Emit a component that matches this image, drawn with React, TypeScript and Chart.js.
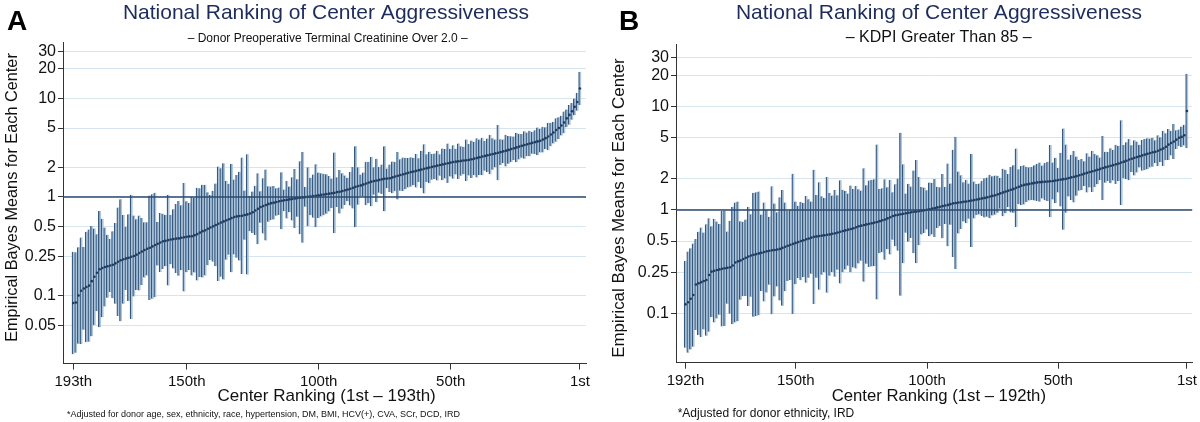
import React, { useEffect, useRef } from 'react';
import { Chart, registerables } from 'chart.js';

Chart.register(...registerables);

// ---------- Panel A: Donor Preoperative Terminal Creatinine Over 2.0 (193 centers, left = rank 193) ----------
const meanA = [
  0.084, 0.085, 0.10, 0.112, 0.118, 0.122, 0.126, 0.14, 0.155, 0.17,
  0.185, 0.19, 0.195, 0.198, 0.202, 0.205, 0.212, 0.22, 0.228, 0.233,
  0.238, 0.242, 0.247, 0.252, 0.26, 0.27, 0.28, 0.29, 0.298, 0.305,
  0.315, 0.325, 0.335, 0.345, 0.355, 0.36, 0.365, 0.37, 0.375, 0.378,
  0.38, 0.385, 0.39, 0.395, 0.398, 0.40, 0.41, 0.42, 0.435, 0.45,
  0.46, 0.475, 0.49, 0.505, 0.52, 0.535, 0.55, 0.565, 0.58, 0.595,
  0.61, 0.625, 0.635, 0.64, 0.645, 0.655, 0.665, 0.68, 0.70, 0.73,
  0.76, 0.79, 0.81, 0.83, 0.85, 0.865, 0.875, 0.89, 0.905, 0.915,
  0.925, 0.935, 0.945, 0.955, 0.965, 0.975, 0.98, 0.99, 1.0, 1.005,
  1.01, 1.02, 1.03, 1.04, 1.05, 1.06, 1.07, 1.08, 1.09, 1.10,
  1.12, 1.13, 1.15, 1.17, 1.19, 1.21, 1.24, 1.27, 1.29, 1.31,
  1.34, 1.37, 1.40, 1.43, 1.45, 1.47, 1.49, 1.51, 1.53, 1.54,
  1.55, 1.58, 1.61, 1.64, 1.67, 1.70, 1.73, 1.76, 1.79, 1.81,
  1.84, 1.87, 1.90, 1.93, 1.96, 1.99, 2.02, 2.05, 2.08, 2.11,
  2.14, 2.17, 2.20, 2.23, 2.26, 2.28, 2.30, 2.32, 2.34, 2.36,
  2.38, 2.41, 2.45, 2.49, 2.53, 2.57, 2.61, 2.65, 2.69, 2.73,
  2.77, 2.81, 2.85, 2.90, 2.95, 3.00, 3.06, 3.12, 3.18, 3.24,
  3.30, 3.36, 3.42, 3.48, 3.54, 3.60, 3.66, 3.72, 3.82, 3.95,
  4.10, 4.30, 4.50, 4.78, 5.00, 5.30, 5.70, 6.27, 6.80, 7.40,
  8.20, 9.20, 12.6,
];
// half-width of each interval, in decades (log10) around the mean
const hwA = [
  0.52, 0.51, 0.49, 0.54, 0.42, 0.56, 0.57, 0.56, 0.49, 0.39,
  0.59, 0.50, 0.40, 0.32, 0.27, 0.34, 0.41, 0.55, 0.62, 0.45,
  0.32, 0.44, 0.63, 0.41, 0.36, 0.38, 0.34, 0.28, 0.27, 0.53,
  0.53, 0.53, 0.22, 0.30, 0.28, 0.26, 0.46, 0.25, 0.30, 0.35,
  0.38, 0.33, 0.55, 0.36, 0.34, 0.40, 0.38, 0.47, 0.45, 0.47,
  0.46, 0.37, 0.33, 0.36, 0.42, 0.58, 0.55, 0.59, 0.40, 0.36,
  0.55, 0.38, 0.42, 0.45, 0.59, 0.25, 0.61, 0.18, 0.21, 0.25,
  0.36, 0.16, 0.28, 0.36, 0.18, 0.17, 0.17, 0.14, 0.14, 0.29,
  0.11, 0.19, 0.13, 0.22, 0.30, 0.19, 0.37, 0.46, 0.10, 0.30,
  0.19, 0.22, 0.32, 0.23, 0.22, 0.21, 0.20, 0.18, 0.15, 0.41,
  0.15, 0.22, 0.18, 0.15, 0.12, 0.17, 0.21, 0.41, 0.19, 0.11,
  0.12, 0.22, 0.21, 0.25, 0.14, 0.22, 0.13, 0.15, 0.33, 0.10,
  0.14, 0.16, 0.15, 0.24, 0.16, 0.17, 0.16, 0.15, 0.15, 0.14,
  0.17, 0.12, 0.19, 0.25, 0.14, 0.16, 0.13, 0.13, 0.15, 0.11,
  0.16, 0.15, 0.20, 0.14, 0.17, 0.13, 0.18, 0.15, 0.14, 0.21,
  0.16, 0.19, 0.17, 0.20, 0.18, 0.19, 0.15, 0.17, 0.20, 0.16,
  0.14, 0.28, 0.13, 0.12, 0.16, 0.14, 0.13, 0.12, 0.15, 0.13,
  0.12, 0.14, 0.12, 0.13, 0.11, 0.12, 0.14, 0.12, 0.13, 0.11,
  0.14, 0.12, 0.11, 0.12, 0.11, 0.10, 0.11, 0.09, 0.10, 0.085,
  0.085, 0.09, 0.17,
];
const yTicksA = [0.05, 0.1, 0.25, 0.5, 1, 2, 5, 10, 20, 30];
const yTickLabelsA = ['0.05', '0.1', '0.25', '0.5', '1', '2', '5', '10', '20', '30'];
const xTicksA = [193, 150, 100, 50, 1];
const xTickLabelsA = ['193th', '150th', '100th', '50th', '1st'];

// ---------- Panel B: KDPI Greater Than 85 (192 centers, left = rank 192) ----------
const meanB = [
  0.122, 0.128, 0.138, 0.150, 0.190, 0.195, 0.200, 0.205, 0.210, 0.235,
  0.253, 0.258, 0.262, 0.266, 0.270, 0.273, 0.276, 0.279, 0.290, 0.310,
  0.318, 0.325, 0.335, 0.345, 0.355, 0.362, 0.368, 0.374, 0.380, 0.386,
  0.392, 0.398, 0.403, 0.407, 0.410, 0.415, 0.420, 0.430, 0.440, 0.450,
  0.460, 0.470, 0.480, 0.490, 0.500, 0.510, 0.520, 0.530, 0.540, 0.550,
  0.555, 0.560, 0.565, 0.570, 0.575, 0.580, 0.588, 0.595, 0.605, 0.615,
  0.625, 0.635, 0.645, 0.655, 0.665, 0.680, 0.695, 0.705, 0.715, 0.725,
  0.735, 0.745, 0.755, 0.765, 0.780, 0.795, 0.810, 0.830, 0.850, 0.875,
  0.890, 0.900, 0.910, 0.920, 0.930, 0.940, 0.950, 0.960, 0.965, 0.975,
  0.985, 0.995, 1.005, 1.015, 1.030, 1.045, 1.060, 1.075, 1.090, 1.105,
  1.12, 1.14, 1.16, 1.17, 1.18, 1.19, 1.20, 1.21, 1.22, 1.235,
  1.25, 1.265, 1.28, 1.295, 1.31, 1.33, 1.35, 1.37, 1.39, 1.42,
  1.45, 1.48, 1.51, 1.54, 1.57, 1.60, 1.64, 1.68, 1.72, 1.75,
  1.77, 1.79, 1.81, 1.83, 1.85, 1.86, 1.87, 1.88, 1.89, 1.90,
  1.91, 1.93, 1.95, 1.97, 1.99, 2.01, 2.04, 2.07, 2.10, 2.13,
  2.17, 2.21, 2.25, 2.29, 2.33, 2.37, 2.41, 2.45, 2.50, 2.55,
  2.60, 2.64, 2.68, 2.72, 2.77, 2.82, 2.88, 2.94, 3.00, 3.08,
  3.14, 3.20, 3.26, 3.32, 3.38, 3.44, 3.50, 3.56, 3.62, 3.67,
  3.75, 3.85, 3.95, 4.10, 4.30, 4.45, 4.60, 4.80, 5.00, 5.10,
  5.30, 9.10,
];
const hwB = [
  0.42, 0.49, 0.49, 0.50, 0.44, 0.50, 0.53, 0.47, 0.54, 0.55,
  0.44, 0.50, 0.47, 0.44, 0.56, 0.56, 0.35, 0.45, 0.57, 0.58,
  0.58, 0.38, 0.36, 0.37, 0.48, 0.40, 0.60, 0.60, 0.60, 0.37,
  0.48, 0.40, 0.33, 0.62, 0.45, 0.36, 0.50, 0.56, 0.43, 0.34,
  0.34, 0.68, 0.40, 0.35, 0.38, 0.36, 0.42, 0.38, 0.35, 0.65,
  0.40, 0.52, 0.38, 0.36, 0.56, 0.40, 0.37, 0.42, 0.36, 0.50,
  0.40, 0.38, 0.35, 0.42, 0.38, 0.40, 0.36, 0.34, 0.55, 0.38,
  0.42, 0.42, 0.42, 0.75, 0.31, 0.31, 0.39, 0.30, 0.36, 0.23,
  0.30, 0.35, 0.79, 0.48, 0.19, 0.28, 0.25, 0.40, 0.50, 0.33,
  0.23, 0.22, 0.19, 0.26, 0.25, 0.28, 0.20, 0.19, 0.31, 0.18,
  0.40, 0.20, 0.52, 0.64, 0.30, 0.26, 0.19, 0.21, 0.17, 0.45,
  0.18, 0.15, 0.15, 0.17, 0.19, 0.19, 0.21, 0.19, 0.19, 0.18,
  0.15, 0.23, 0.21, 0.16, 0.22, 0.23, 0.38, 0.17, 0.19, 0.19,
  0.17, 0.16, 0.16, 0.17, 0.18, 0.19, 0.16, 0.18, 0.19, 0.35,
  0.18, 0.22, 0.12, 0.26, 0.49, 0.33, 0.18, 0.22, 0.25, 0.19,
  0.15, 0.15, 0.12, 0.19, 0.15, 0.20, 0.16, 0.14, 0.11, 0.31,
  0.15, 0.14, 0.17, 0.15, 0.19, 0.17, 0.41, 0.16, 0.18, 0.20,
  0.13, 0.17, 0.15, 0.11, 0.15, 0.15, 0.15, 0.14, 0.14, 0.11,
  0.15, 0.12, 0.17, 0.13, 0.15, 0.12, 0.17, 0.09, 0.08, 0.10,
  0.10, 0.36,
];
const yTicksB = [0.1, 0.25, 0.5, 1, 2, 5, 10, 20, 30];
const yTickLabelsB = ['0.1', '0.25', '0.5', '1', '2', '5', '10', '20', '30'];
const xTicksB = [192, 150, 100, 50, 1];
const xTickLabelsB = ['192th', '150th', '100th', '50th', '1st'];

const FONT = '"Liberation Sans", Arial, Helvetica, sans-serif';
const TITLE_COLOR = '#1d2c5c';
const BAR_LINE = '#35587d';
const BAR_FILL = '#adc6de';
const MEAN_COLOR = '#1f3b60';
const REF_COLOR = '#2b4a6f';
const GRID_COLOR = '#d6e5ee';
const AXIS_COLOR = '#333333';

type TextItem = {
  text: string; x: number; y: number; size: number; bold?: boolean;
  color?: string; align?: CanvasTextAlign; rotate?: number;
};

type PanelCfg = {
  mean: number[]; hw: number[];
  yTicks: number[]; yTickLabels: string[];
  xTicks: number[]; xTickLabels: string[];
  yMin: number; yMax: number; xMin: number; xMax: number;
  padTop: number; padRight: number; yWidth: number; xHeight: number;
  texts: TextItem[];
};

const textPlugin = {
  id: 'texts',
  afterDraw(chart: any, _args: any, opts: any) {
    const ctx = chart.ctx as CanvasRenderingContext2D;
    (opts.items as TextItem[]).forEach((t) => {
      ctx.save();
      ctx.font = `${t.bold ? 'bold ' : ''}${t.size}px ${FONT}`;
      ctx.fillStyle = t.color || '#111';
      ctx.textAlign = t.align || 'center';
      ctx.textBaseline = t.rotate ? 'middle' : 'alphabetic';
      ctx.translate(t.x, t.y);
      if (t.rotate) ctx.rotate(t.rotate);
      ctx.fillText(t.text, 0, 0);
      ctx.restore();
    });
  },
};

const refLinePlugin = {
  id: 'refLine',
  afterDatasetsDraw(chart: any) {
    const { ctx, chartArea } = chart;
    const y = chart.scales.y.getPixelForValue(1);
    ctx.save();
    ctx.strokeStyle = REF_COLOR;
    ctx.lineWidth = 1.6;
    ctx.beginPath();
    ctx.moveTo(chartArea.left, y);
    ctx.lineTo(chartArea.right, y);
    ctx.stroke();
    ctx.restore();
  },
};

function buildChart(canvas: HTMLCanvasElement, p: PanelCfg) {
  const n = p.mean.length;
  const bars = p.mean.map((m, i) => ({
    x: n - i,
    y: [m / Math.pow(10, p.hw[i]), m * Math.pow(10, p.hw[i])],
  }));
  const pts = p.mean.map((m, i) => ({ x: n - i, y: m }));
  return new Chart(canvas, {
    type: 'bar',
    data: {
      datasets: [
        {
          type: 'line',
          data: pts as any,
          showLine: false,
          pointRadius: 1.3,
          pointBorderWidth: 0,
          pointBackgroundColor: MEAN_COLOR,
          order: 0,
        } as any,
        {
          type: 'bar',
          data: bars as any,
          backgroundColor: BAR_FILL,
          borderColor: BAR_LINE,
          borderWidth: { left: 1.6, right: 0, top: 0, bottom: 0 },
          borderSkipped: false,
          barThickness: 2.64,
          order: 1,
        } as any,
      ],
    },
    options: {
      responsive: false,
      animation: false,
      events: [],
      layout: { padding: { top: p.padTop, right: p.padRight, left: 0, bottom: 0 } },
      plugins: {
        legend: { display: false },
        tooltip: { enabled: false },
        texts: { items: p.texts },
      } as any,
      scales: {
        x: {
          type: 'linear',
          reverse: true,
          offset: false,
          bounds: 'data',
          min: p.xMin,
          max: p.xMax,
          afterBuildTicks: (s: any) => { s.ticks = p.xTicks.map((v) => ({ value: v })); },
          afterFit: (s: any) => { s.height = p.xHeight; },
          ticks: {
            autoSkip: false,
            maxRotation: 0,
            padding: 3,
            color: '#111',
            font: { family: FONT, size: 15 },
            callback: (v: any) => p.xTickLabels[p.xTicks.indexOf(Number(v))] ?? '',
          },
          grid: { offset: false, drawOnChartArea: false, drawTicks: true, tickLength: 6, tickColor: AXIS_COLOR, tickWidth: 1 },
          border: { display: true, color: AXIS_COLOR, width: 1 },
        },
        y: {
          type: 'logarithmic',
          bounds: 'data',
          min: p.yMin,
          max: p.yMax,
          afterBuildTicks: (s: any) => { s.ticks = p.yTicks.map((v) => ({ value: v })); },
          afterFit: (s: any) => { s.width = p.yWidth; },
          ticks: {
            autoSkip: false,
            padding: 2,
            color: '#111',
            font: { family: FONT, size: 16 },
            callback: (v: any) => {
              const k = p.yTicks.findIndex((t) => Math.abs(t - Number(v)) < 1e-9);
              return k >= 0 ? p.yTickLabels[k] : '';
            },
          },
          grid: { color: GRID_COLOR, lineWidth: 1, drawTicks: true, tickLength: 5, tickColor: AXIS_COLOR, tickWidth: 1 },
          border: { display: true, color: AXIS_COLOR, width: 1 },
        },
      },
    },
    plugins: [textPlugin, refLinePlugin],
  } as any);
}

const panelA: PanelCfg = {
  mean: meanA, hw: hwA,
  yTicks: yTicksA, yTickLabels: yTickLabelsA,
  xTicks: xTicksA, xTickLabels: xTickLabelsA,
  yMin: 0.0204, yMax: 37.3, xMin: -1.3, xMax: 196.9,
  padTop: 42, padRight: 14, yWidth: 63, xHeight: 58.4,
  texts: [
    { text: 'A', x: 7, y: 30, size: 28, bold: true, align: 'left', color: '#000' },
    { text: 'National Ranking of Center Aggressiveness', x: 326, y: 19, size: 21, color: TITLE_COLOR },
    { text: '\u2013 Donor Preoperative Terminal Creatinine Over 2.0 \u2013', x: 327.7, y: 42, size: 12, color: '#111' },
    { text: 'Empirical Bayes Means for Each Center', x: 13, y: 197.5, size: 16.3, rotate: -Math.PI / 2, color: '#111' },
    { text: 'Center Ranking (1st \u2013 193th)', x: 326.6, y: 401, size: 17, color: '#111' },
    { text: '*Adjusted for donor age, sex, ethnicity, race, hypertension, DM, BMI, HCV(+), CVA, SCr, DCD, IRD', x: 67, y: 417, size: 9, align: 'left', color: '#111' },
  ],
};

const panelB: PanelCfg = {
  mean: meanB, hw: hwB,
  yTicks: yTicksB, yTickLabels: yTickLabelsB,
  xTicks: xTicksB, xTickLabels: xTickLabelsB,
  yMin: 0.0332, yMax: 40.5, xMin: -1.0, xMax: 195.6,
  padTop: 44, padRight: 3, yWidth: 76, xHeight: 59.3,
  texts: [
    { text: 'B', x: 19, y: 30, size: 28, bold: true, align: 'left', color: '#000' },
    { text: 'National Ranking of Center Aggressiveness', x: 339, y: 19, size: 21, color: TITLE_COLOR },
    { text: '\u2013 KDPI Greater Than 85 \u2013', x: 338.7, y: 42, size: 16, color: '#111' },
    { text: 'Empirical Bayes Means for Each Center', x: 19, y: 208, size: 16.9, rotate: -Math.PI / 2, color: '#111' },
    { text: 'Center Ranking (1st \u2013 192th)', x: 338.8, y: 401, size: 16.7, color: '#111' },
    { text: '*Adjusted for donor ethnicity, IRD', x: 77.7, y: 417, size: 12, align: 'left', color: '#111' },
  ],
};

function Panel({ cfg, left }: { cfg: PanelCfg; left: number }) {
  const ref = useRef<HTMLCanvasElement | null>(null);
  useEffect(() => {
    if (!ref.current) return;
    const chart = buildChart(ref.current, cfg);
    return () => chart.destroy();
  }, [cfg]);
  return (
    <canvas
      ref={ref}
      width={600}
      height={422}
      style={{ position: 'absolute', left, top: 0, width: 600, height: 422 }}
    />
  );
}

export default function App() {
  return (
    <div style={{ position: 'absolute', left: 0, top: 0, width: 1200, height: 422, background: '#fff', overflow: 'hidden' }}>
      <Panel cfg={panelA} left={0} />
      <Panel cfg={panelB} left={600} />
    </div>
  );
}
